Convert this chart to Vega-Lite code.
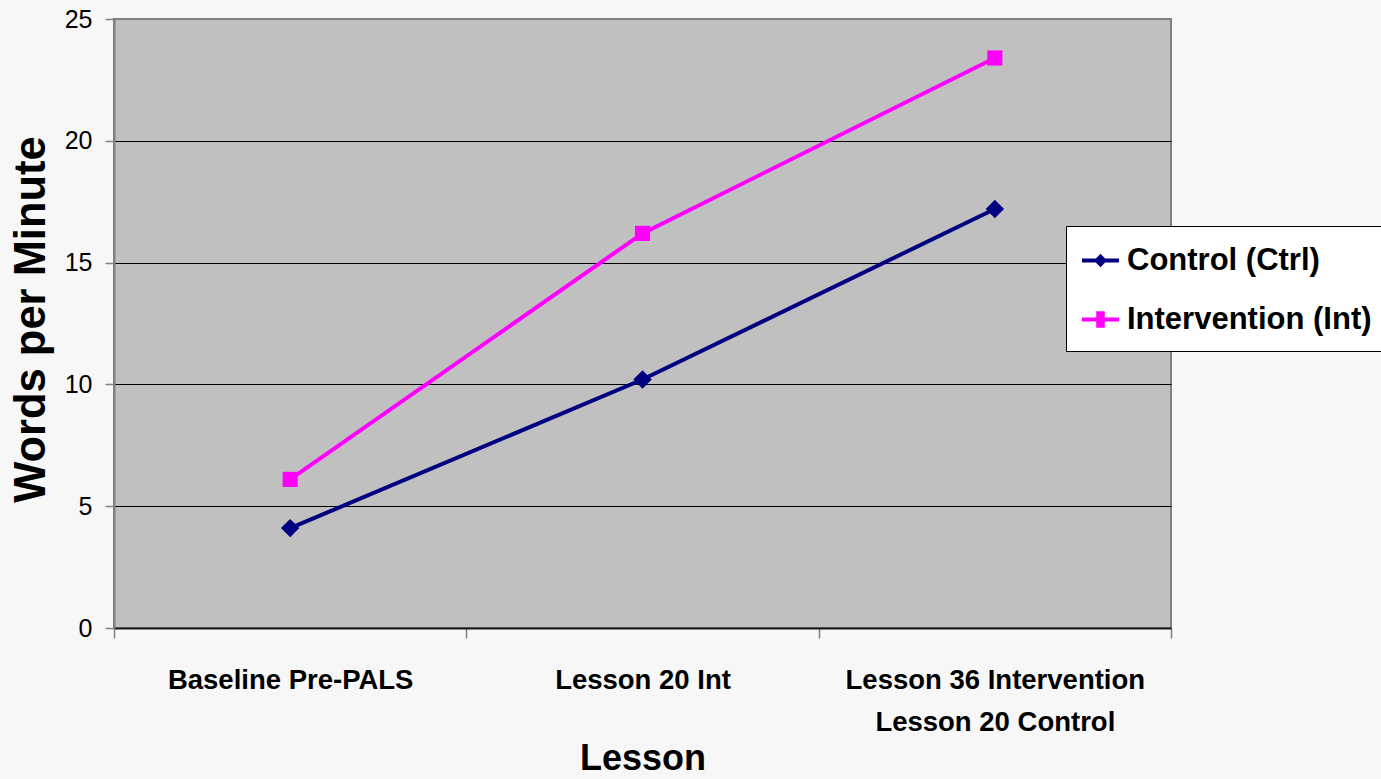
{
  "$schema": "https://vega.github.io/schema/vega-lite/v6.json",
  "width": 1057,
  "height": 609,
  "autosize": "none",
  "padding": {"left": 114, "top": 19, "right": 210, "bottom": 151},
  "background": "#f7f7f7",
  "config": {
    "view": {"fill": "#c0c0c0", "stroke": "#808080", "strokeWidth": 2},
    "axis": {
      "labelColor": "black",
      "titleColor": "black",
      "tickColor": "#808080",
      "tickWidth": 1.5
    }
  },
  "data": {
    "values": [
      {"lesson": "Baseline Pre-PALS", "group": "Control (Ctrl)", "wpm": 4.1},
      {"lesson": "Lesson 20 Int", "group": "Control (Ctrl)", "wpm": 10.2},
      {"lesson": "Lesson 36 Intervention / Lesson 20 Control", "group": "Control (Ctrl)", "wpm": 17.2},
      {"lesson": "Baseline Pre-PALS", "group": "Intervention (Int)", "wpm": 6.1},
      {"lesson": "Lesson 20 Int", "group": "Intervention (Int)", "wpm": 16.2},
      {"lesson": "Lesson 36 Intervention / Lesson 20 Control", "group": "Intervention (Int)", "wpm": 23.4}
    ]
  },
  "encoding": {
    "x": {
      "field": "lesson",
      "type": "nominal",
      "sort": null,
      "scale": {"type": "band", "paddingInner": 0, "paddingOuter": 0},
      "axis": {
        "title": "Lesson",
        "labelAngle": 0,
        "labelExpr": "split(datum.label, ' / ')",
        "labelFont": "'Liberation Sans', sans-serif",
        "labelFontSize": 27.5,
        "labelFontWeight": "bold",
        "labelLineHeight": 42,
        "labelPadding": 28,
        "labelLimit": 0,
        "tickBand": "extent",
        "tickSize": 10,
        "domainColor": "#1a1a1a",
        "domainWidth": 2,
        "grid": false,
        "titleFont": "'Liberation Sans', sans-serif",
        "titleFontSize": 36,
        "titleFontWeight": "bold",
        "titleY": 141,
        "titleBaseline": "alphabetic"
      }
    },
    "y": {
      "field": "wpm",
      "type": "quantitative",
      "scale": {"domain": [0, 25], "nice": false},
      "axis": {
        "title": "Words per Minute",
        "values": [0, 5, 10, 15, 20, 25],
        "labelFont": "'Liberation Sans', sans-serif",
        "labelFontSize": 25,
        "labelFontWeight": "normal",
        "labelPadding": 13,
        "tickSize": 9,
        "domainColor": "#808080",
        "domainWidth": 2,
        "grid": true,
        "gridColor": {"condition": {"test": "datum.value === 25", "value": "#808080"}, "value": "black"},
        "gridOpacity": 1,
        "gridWidth": 1.2,
        "titleFont": "'Liberation Sans', sans-serif",
        "titleFontSize": 43.5,
        "titleFontWeight": "bold",
        "titleAngle": -90,
        "titleAlign": "center",
        "titleBaseline": "middle",
        "titleX": -83,
        "titleY": 300
      }
    },
    "color": {
      "field": "group",
      "type": "nominal",
      "scale": {"domain": ["Control (Ctrl)", "Intervention (Int)"], "range": ["#000080", "#ff00ff"]},
      "legend": {
        "title": null,
        "orient": "none",
        "legendX": 952,
        "legendY": 207,
        "fillColor": "white",
        "strokeColor": "black",
        "padding": 16,
        "rowPadding": 25,
        "symbolSize": 1369,
        "symbolStrokeWidth": 0,
        "labelOffset": 8,
        "labelFont": "'Liberation Sans', sans-serif",
        "labelFontSize": 31,
        "labelFontWeight": "bold",
        "labelColor": "black",
        "labelLimit": 0,
        "encode": {
          "symbols": {
            "update": {
              "shape": {"signal": "datum.value === 'Control (Ctrl)' ? 'M-1,-0.11H1V0.11H-1ZM0,-0.36L0.36,0L0,0.36L-0.36,0Z' : 'M-1,-0.11H1V0.11H-1ZM-0.23,-0.45H0.23V0.45H-0.23Z'"},
              "size": {"value": 1369},
              "fill": {"signal": "datum.value === 'Control (Ctrl)' ? '#000080' : '#ff00ff'"},
              "strokeWidth": {"value": 0},
              "opacity": {"value": 1}
            }
          }
        }
      }
    }
  },
  "layer": [
    {"mark": {"type": "line", "strokeWidth": 4}},
    {
      "transform": [{"filter": "datum.group === 'Control (Ctrl)'"}],
      "mark": {"type": "point", "filled": true, "opacity": 1, "shape": "diamond", "size": 340}
    },
    {
      "transform": [{"filter": "datum.group === 'Intervention (Int)'"}],
      "mark": {"type": "point", "filled": true, "opacity": 1, "shape": "square", "size": 230}
    }
  ]
}
